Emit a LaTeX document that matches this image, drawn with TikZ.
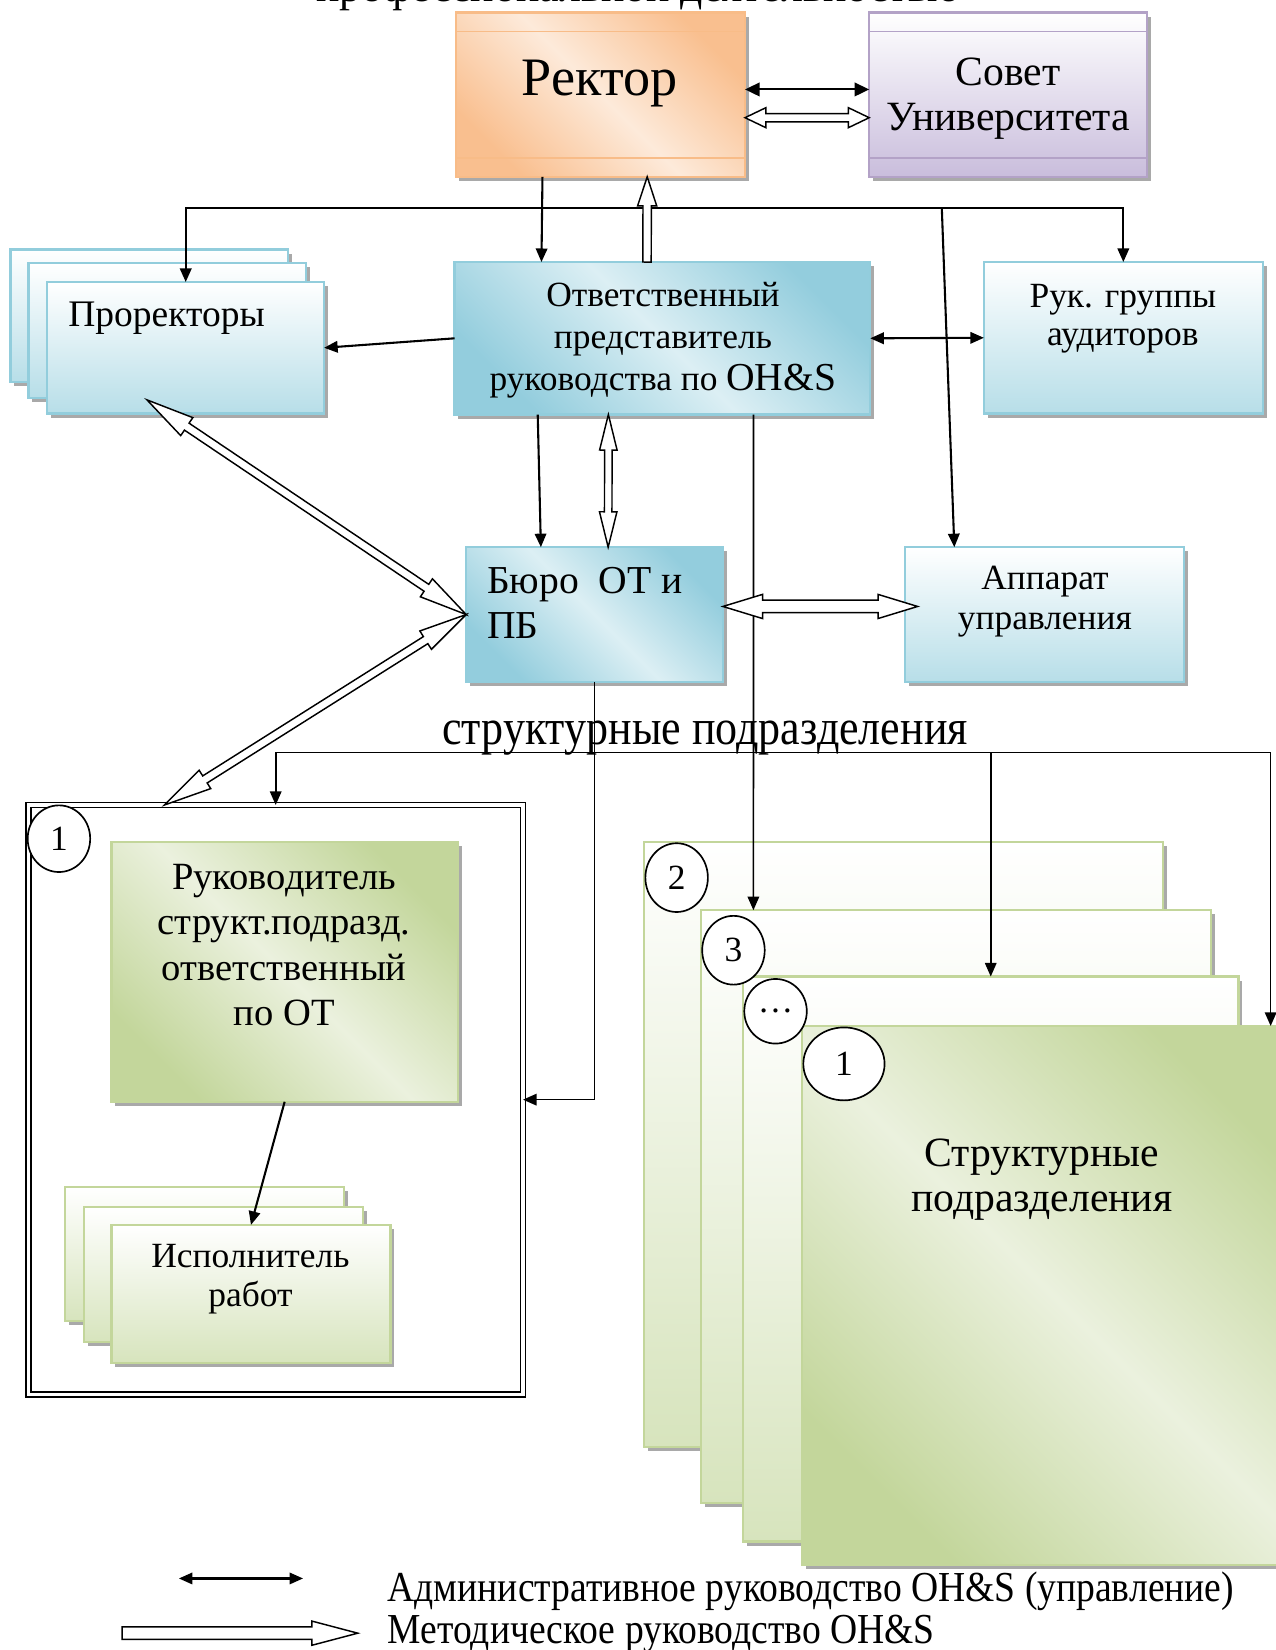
\documentclass[tikz,border=0pt]{standalone}
\usepackage{fontspec}
\setmainfont{Liberation Serif}
\newfontfamily\narrowfont[FakeStretch=0.88]{Liberation Serif}
\usetikzlibrary{arrows.meta,calc,fit,shadows,shapes.geometric}
\definecolor{orD}{HTML}{F9BF8F}
\definecolor{orL}{HTML}{FDEADA}
\definecolor{orB}{HTML}{F8BC88}
\definecolor{lvD}{HTML}{C9BDDC}
\definecolor{lvB}{HTML}{B3A2C7}
\definecolor{blD}{HTML}{93CDDD}
\definecolor{blL}{HTML}{DCEFF4}
\definecolor{blM}{HTML}{B7DEE8}
\definecolor{blB}{HTML}{92CDDC}
\definecolor{grD}{HTML}{C3D69B}
\definecolor{grL}{HTML}{EBF1DE}
\definecolor{grM}{HTML}{D7E4BD}
\definecolor{grB}{HTML}{C3D69B}
\newcommand\hollowtwo[5]{%
  \coordinate (hX) at ($(#1)!#5!(#2)$);
  \coordinate (hY) at ($(#2)!#5!(#1)$);
  \draw[hollow] (#1) -- ($(hX)!#4!90:(#2)$) -- ($(hX)!#3!90:(#2)$)
    -- ($(hY)!#3!-90:(#1)$) -- ($(hY)!#4!-90:(#1)$) -- (#2)
    -- ($(hY)!#4!90:(#1)$) -- ($(hY)!#3!90:(#1)$)
    -- ($(hX)!#3!-90:(#2)$) -- ($(hX)!#4!-90:(#2)$) -- cycle;}
\newcommand\hollowone[5]{%
  \coordinate (hY) at ($(#2)!#5!(#1)$);
  \draw[hollow] ($(#1)!#3!90:(#2)$)
    -- ($(hY)!#3!-90:(#1)$) -- ($(hY)!#4!-90:(#1)$) -- (#2)
    -- ($(hY)!#4!90:(#1)$) -- ($(hY)!#3!90:(#1)$)
    -- ($(#1)!#3!-90:(#2)$) -- cycle;}
\begin{document}
\begin{tikzpicture}[x=0.505pt,y=-0.505pt,
  >={Triangle[length=6.5pt,width=5.5pt]},
  sh/.style={drop shadow={shadow xshift=1.8pt,shadow yshift=-2pt,fill=black!45,opacity=0.75}},
  boxbase/.style={inner sep=0pt,outer sep=0pt,line width=1.1pt,sh},
  orbox/.style={boxbase,draw=orB,left color=orD,right color=orD,middle color=orL,shading angle=-45},
  lvbox/.style={boxbase,draw=lvB,top color=white,bottom color=lvD},
  bdbox/.style={boxbase,draw=blB,left color=blD,right color=blD,middle color=blL,shading angle=-45},
  bvbox/.style={boxbase,draw=blB,top color=white,bottom color=blM},
  gdbox/.style={boxbase,draw=grB,left color=grD,right color=grD,middle color=grL,shading angle=-45},
  gvbox/.style={boxbase,draw=grB,top color=white,bottom color=grM},
  ell/.style={ellipse,draw,fill=white,line width=0.8pt,inner sep=0pt,font=\fontsize{17}{17}\selectfont},
  hollow/.style={draw=black,fill=white,line width=0.7pt,line join=miter},
  blk/.style={line width=1pt},
  thin/.style={line width=0.8pt}]
\useasboundingbox (0,0) rectangle (1212,1568);

% clipped heading line at the top
\node[anchor=base west,inner sep=0pt,font=\fontsize{21}{24}\selectfont] (topT) at (300,1) {профессиональной деятельностью};

% Rector and Council
\node[orbox,fit={(433,12) (708,168)}] (rektor) {};
\draw[orB,line width=0.8pt] ($(rektor.north west)+(0,18)$) -- ($(rektor.north east)+(0,18)$);
\draw[orB,line width=0.8pt] ($(rektor.south west)+(0,-18)$) -- ($(rektor.south east)+(0,-18)$);
\node[font=\fontsize{26}{30}\selectfont] (rektorT) at (570,79) {Ректор};

\node[lvbox,fit={(826,12) (1090,168)}] (sovet) {};
\draw[lvB,line width=0.8pt] ($(sovet.north west)+(0,18)$) -- ($(sovet.north east)+(0,18)$);
\draw[lvB,line width=0.8pt] ($(sovet.south west)+(0,-18)$) -- ($(sovet.south east)+(0,-18)$);
\node[align=center,font=\fontsize{20}{21.7}\selectfont] (sovetT) at (958,94) {Совет\\Университета};

% Prorectors stack
\node[bvbox,fit={(10,237) (274,363)}] (prorC) {};
\node[bvbox,fit={(27,250) (291,378)}] (prorB) {};
\node[bvbox,fit={(45,268) (308,393)}] (pror) {};
\node[anchor=west,font=\fontsize{18}{20}\selectfont] (prorT) at (58,302) {Проректоры};

% Representative
\node[bdbox,fit={(432,249) (827,394)}] (otv) {};
\node[align=center,font=\fontsize{17}{20.2}\selectfont] (otvT) at (630,323) {Ответственный\\представитель\\руководства по {\fontsize{19}{20}\selectfont OH\&S}};

% Auditors
\node[bvbox,fit={(935,249) (1200,393)}] (ruk) {};
\node[align=center,font=\fontsize{17}{18.2}\selectfont] (rukT) at (1067,303) {Рук. группы\\аудиторов};

% Bureau
\node[bdbox,fit={(443,520) (687,648)}] (buro) {};
\node[align=left,anchor=north west,font=\fontsize{19}{21.7}\selectfont] (buroT) at (456,532) {Бюро\ \ ОТ и\\ПБ};

% Apparatus
\node[bvbox,fit={(860,520) (1125,648)}] (app) {};
\node[align=center,font=\fontsize{17}{19.2}\selectfont] (appT) at (993,572) {Аппарат\\управления};

\node[font=\narrowfont\fontsize{24}{28}\selectfont] (strT) at (670,701) {структурные подразделения};

% Container of unit 1
\node[draw,double,double distance=1.6pt,line width=0.8pt,inner sep=0pt,outer sep=0pt,fit={(27,765) (497,1325)}] (cont) {};
\node[gdbox,fit={(106,800) (435,1047)}] (rsp) {};
\node[align=center,font=\fontsize{18.5}{21.7}\selectfont] (rspT) at (270,898) {Руководитель\\структ.подразд.\\ответственный\\по ОТ};
\node[gvbox,fit={(62,1128) (327,1255)}] (ispC) {};
\node[gvbox,fit={(80,1147) (345,1275)}] (ispB) {};
\node[gvbox,fit={(106,1164) (371,1295)}] (isp) {};
\node[align=center,font=\fontsize{17}{18.7}\selectfont] (ispT) at (238,1216) {Исполнитель\\работ};
\node[ell,minimum width=30pt,minimum height=32pt] (c1) at (56,797) {1};

% Structural units stack
\node[gvbox,fit={(612,800) (1105,1375)}] (s2) {};
\node[gvbox,fit={(666,865) (1151,1428)}] (s3) {};
\node[gvbox,fit={(706,928) (1177,1465)}] (s4) {};
\node[gdbox,fit={(762,975) (1240,1487)}] (s1) {};
\node[ell,minimum width=30pt,minimum height=33pt] (c2) at (643,834) {2};
\node[ell,minimum width=30pt,minimum height=33pt] (c3) at (697,903) {3};
\node[ell,minimum width=30pt,minimum height=31pt] (c4) at (737,961) {…};
\node[ell,minimum width=39pt,minimum height=35pt] (c5) at (802,1011) {1};
\node[align=center,font=\fontsize{20}{21.7}\selectfont] (s1T) at (990,1121) {Структурные\\подразделения};

% ---------- connectors ----------
% Rector <-> Council
\draw[blk,<->,>={Triangle[length=7pt,width=6.5pt]}] ($(rektor.north east)!0.468!(rektor.south east)$) -- ($(sovet.north west)!0.468!(sovet.south west)$);
\coordinate (rsA) at ($(rektor.north east)!0.64!(rektor.south east)$);
\coordinate (rsB) at ($(sovet.north west)!0.64!(sovet.south west)$);
\hollowtwo{rsA}{rsB}{2pt}{4.8pt}{10pt}

% Rector -> representative, and branches
\coordinate (rkS) at ($(rektor.south west)!0.30!(rektor.south east)$);
\coordinate (otN) at ($(otv.north west)!0.209!(otv.north east)$);
\draw[blk,->] (rkS) -- (otN);
\coordinate (j1) at ($(rkS)!0.37!(otN)$);
\draw[blk,->] (j1) -| (pror.north);
\draw[blk,->] (j1) -| (ruk.north);
\coordinate (j2) at (895,198);
\draw[blk,->] (j2) -- ($(app.north west)!0.177!(app.north east)$);

% representative -> rector (methodical)
\coordinate (oUp) at ($(otv.north west)!0.463!(otv.north east)$);
\coordinate (rUp) at ($(rektor.south west)!0.662!(rektor.south east)$);
\hollowone{oUp}{rUp}{2pt}{4.6pt}{14pt}

\draw[blk,->] (otv.west) -- (pror.east);
\draw[blk,<->] (otv.east) -- (ruk.west);

\draw[blk,->] ($(otv.south west)!0.2!(otv.south east)$) -- ($(buro.north west)!0.291!(buro.north east)$);
\coordinate (obA) at ($(otv.south west)!0.37!(otv.south east)$);
\coordinate (obB) at ($(buro.north west)!0.553!(buro.north east)$);
\hollowtwo{obA}{obB}{1.8pt}{4.2pt}{17pt}

\draw[thin,->] ($(otv.south west)!0.719!(otv.south east)$) -- ($(s3.north west)!0.103!(s3.north east)$);

% Bureau <-> apparatus
\coordinate (baA) at ($(buro.north east)!0.44!(buro.south east)$);
\coordinate (baB) at ($(app.north west)!0.44!(app.south west)+(12,0)$);
\hollowtwo{baA}{baB}{3pt}{5.8pt}{19pt}

% prorectors <-> bureau <-> unit 1
\coordinate (pbA) at ($(pror.south west)!0.36!(pror.south east)+(0,-13)$);
\hollowtwo{pbA}{buro.west}{2pt}{5.2pt}{23pt}
\coordinate (cbA) at ($(cont.north west)!0.275!(cont.north east)$);
\hollowtwo{buro.west}{cbA}{2pt}{5.2pt}{23pt}

% Bureau -> units
\draw[thin,->] (buro.south) |- (cont.east);
\coordinate (j3) at (buro.south |- 0,715);
\draw[thin,->] (j3) -| (cont.north);
\draw[thin,->] (j3) -| (s4.north);
\draw[thin,->] (j3) -| ($(s1.north west)!0.932!(s1.north east)$);

\draw[blk,->] (rsp.south) -- (isp.north);

% ---------- legend ----------
\coordinate (lgA1) at (170,1500);
\coordinate (lgA2) at (288,1500);
\draw[blk,<->] (lgA1) -- (lgA2);
\coordinate (lgB1) at (116,1552);
\coordinate (lgB2) at (340,1552);
\hollowone{lgB1}{lgB2}{3pt}{5.8pt}{22pt}
\node[anchor=base west,inner sep=0pt,font=\narrowfont\fontsize{20.5}{24}\selectfont] (lgT1) at (368,1522) {Административное руководство OH\&S (управление)};
\node[anchor=base west,inner sep=0pt,font=\narrowfont\fontsize{20.5}{24}\selectfont] (lgT2) at (368,1562) {Методическое руководство OH\&S};
\end{tikzpicture}
\end{document}
